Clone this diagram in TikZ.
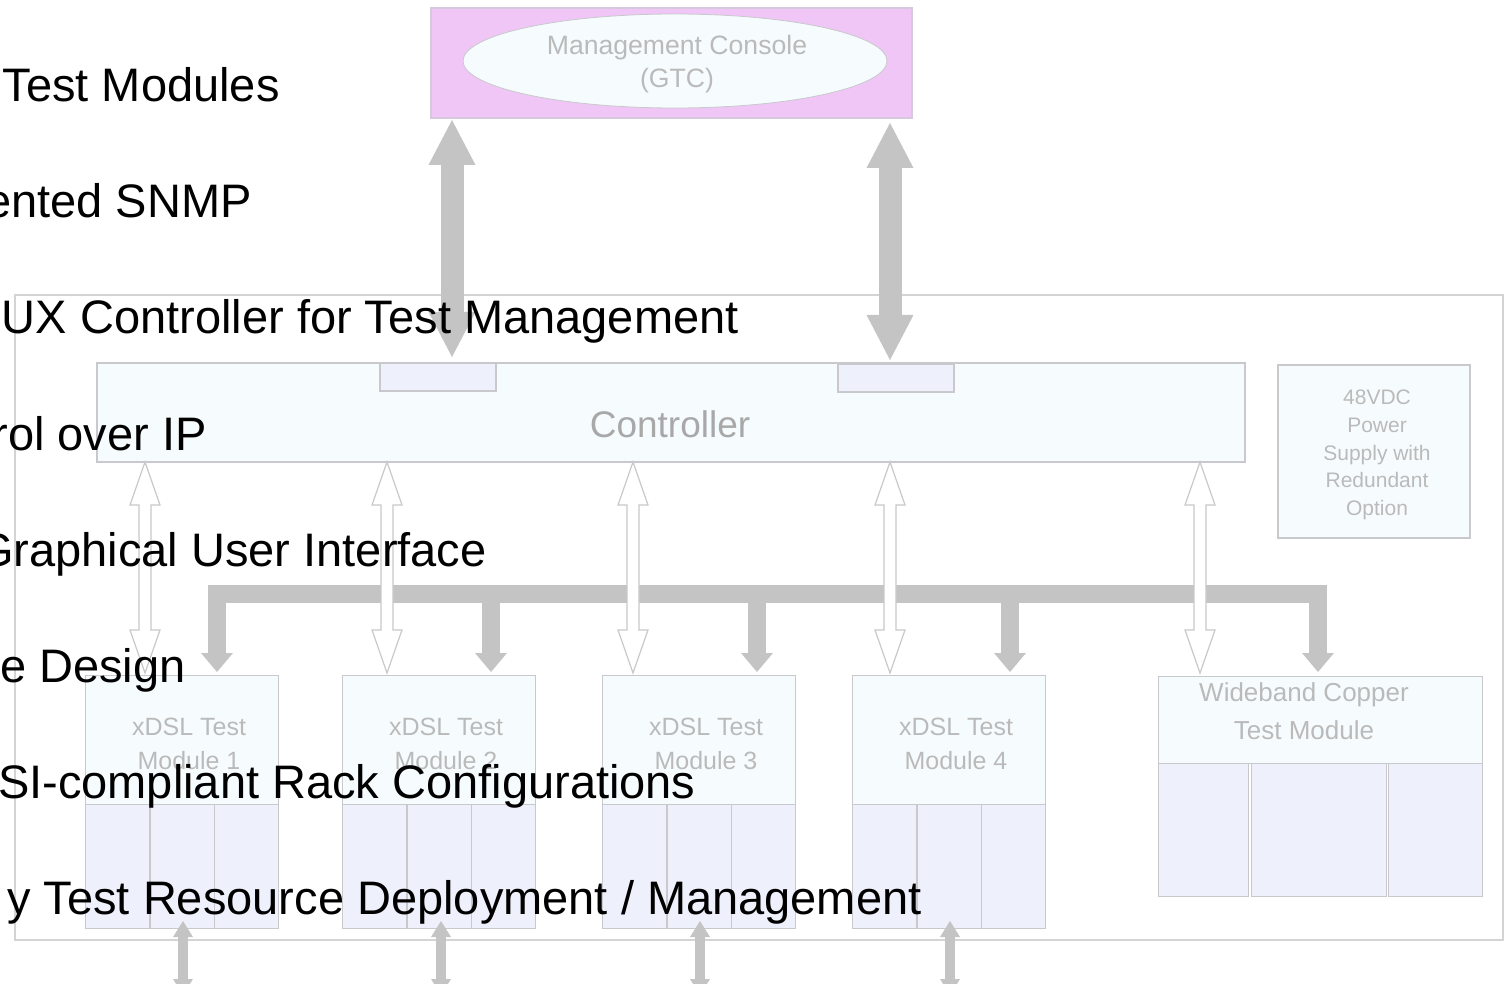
\documentclass[tikz,border=0pt]{standalone}
\usepackage{fontspec}
\setmainfont{Liberation Sans}
\usetikzlibrary{arrows.meta,shapes.geometric}

\definecolor{rackline}{RGB}{212,212,212}
\definecolor{boxline}{RGB}{200,200,205}
\definecolor{boxfill}{RGB}{246,252,253}
\definecolor{slotfill}{RGB}{238,240,251}
\definecolor{consolefill}{RGB}{239,198,245}
\definecolor{consoleline}{RGB}{215,200,222}
\definecolor{pipe}{RGB}{196,196,196}
\definecolor{faded}{RGB}{186,186,186}
\definecolor{ctrltext}{RGB}{168,168,168}

\tikzset{
  box/.style={draw=boxline, fill=boxfill, line width=0.6pt, inner sep=0pt},
  fadedtext/.style={text=faded, align=center, font=\fontsize{12.5}{17}\selectfont},
  modtop/.style={box, anchor=north west, minimum width=96.5pt, minimum height=64.5pt},
  slot/.style={box, fill=slotfill, anchor=north west, minimum width=32.2pt, minimum height=62pt},
  port/.style={box, fill=slotfill, minimum width=58pt, minimum height=14pt},
  uplink/.style={draw=pipe, line width=11.5pt,
    {Triangle[length=22.5pt,width=23.5pt,line width=0pt]}-{Triangle[length=22.5pt,width=23.5pt,line width=0pt]}},
  bus/.style={draw=pipe, line width=9pt, line join=miter,
    {Triangle[length=9.5pt,width=16pt,line width=0pt]}-{Triangle[length=9.5pt,width=16pt,line width=0pt]}},
  drop/.style={draw=pipe, line width=9pt, -{Triangle[length=9.5pt,width=16pt,line width=0pt]}},
  linelink/.style={draw=pipe, line width=5pt,
    {Triangle[length=8pt,width=10pt,line width=0pt]}-{Triangle[length=8pt,width=10pt,line width=0pt]}},
  hollow/.style={draw=boxline, fill=white, line width=0.6pt, line join=miter},
  bullet/.style={anchor=base east, inner sep=0pt, font=\fontsize{23.5}{28}\selectfont},
}

% x, top y, bottom y
\newcommand{\hollowlink}[3]{%
  \draw[hollow] (#1,#2) -- ++(15,43) -- ++(-9,0) -- (#1+6,#3-43) -- ++(9,0)
    -- (#1,#3) -- ++(-15,-43) -- ++(9,0) -- (#1-6,#2+43) -- ++(-9,0) -- cycle;}

\begin{document}
\begin{tikzpicture}[x=0.5pt,y=-0.5pt]
  \useasboundingbox (0,0) rectangle (1510,984);
  % rack outline
  \draw[rackline, line width=0.8pt] (15,295) rectangle (1503,940);

  % management console
  \node[box, draw=consoleline, fill=consolefill, minimum width=240.5pt, minimum height=55pt] (console) at (671.5,63) {};
  \node[ellipse, draw=boxline, fill=boxfill, inner sep=0pt, minimum width=212pt, minimum height=47pt] (gtc) at (675,61) {};
  \node[fadedtext, font=\fontsize{13.3}{16.5}\selectfont] (gtctxt) at (677,64) {Management Console\\(GTC)};

  % controller
  \node[box, minimum width=574pt, minimum height=49.5pt] (ctrl) at (671,412.5) {};
  \node[text=ctrltext, font=\fontsize{18.5}{22}\selectfont] (ctrltxt) at (670,424) {Controller};
  \node[port] (portL) at (438,377) {};
  \node[port] (portR) at (896,378) {};

  % power supply
  \node[box, minimum width=96pt, minimum height=86.5pt] (psu) at (1374,451.5) {};
  \node[fadedtext, font=\fontsize{10.5}{13.9}\selectfont] (psutxt) at (1377,455) {48VDC\\Power\\Supply with\\Redundant\\Option};

  % console links
  \coordinate (gtcL) at (452,120);
  \coordinate (ctrlL) at (452,357);
  \coordinate (gtcR) at (890,123);
  \coordinate (ctrlR) at (890,360);
  \draw[uplink] (gtcL) -- (ctrlL);
  \draw[uplink] (gtcR) -- (ctrlR);

  % module bus
  \draw[bus] (217,672) |- (1318,594) -- (1318,672);
  \foreach \x in {491,757,1010}
    \draw[drop] (\x,594) -- (\x,672);

  % controller <-> modules
  \foreach \x in {145,387,633,890,1200}
    \hollowlink{\x}{462}{673};

  % xDSL modules
  \foreach \x [count=\i] in {85,342,602,852} {
    \node[modtop] (m\i) at (\x,675) {};
    \node[fadedtext] (mt\i) at ({\x+104},744) {xDSL Test\\Module \i};
    \foreach \k in {0,1,2}
      \node[slot] (m\i-\k) at ({\x+\k*64.4},804) {};
  }

  % wideband module
  \node[modtop, minimum width=162pt, minimum height=43.5pt] (wb) at (1158,676) {};
  \node[fadedtext, font=\fontsize{13}{19}\selectfont] (wbtxt) at (1304,711) {Wideband Copper\\Test Module};
  \node[slot, minimum width=45pt, minimum height=66.5pt] (wb-0) at (1158,763) {};
  \node[slot, minimum width=67.5pt, minimum height=66.5pt] (wb-1) at (1251,763) {};
  \node[slot, minimum width=47pt, minimum height=66.5pt] (wb-2) at (1388,763) {};

  % line side
  \foreach \x in {183,441,700,950}
    \draw[linelink] (\x,921) -- (\x,995);

  % feature list
  \foreach \r/\b/\t [count=\n] in {280/102/{Test Modules}, 252/218/{ented SNMP},
      739/334/{UX Controller for Test Management}, 207/450/{rol over IP},
      487/566/{Graphical User Interface}, 186/682/{e Design},
      696/798/{SI-compliant Rack Configurations},
      922/914/{y Test Resource Deployment / Management}}
    \node[bullet] (pt\n) at (\r,\b) {\t};
\end{tikzpicture}
\end{document}
